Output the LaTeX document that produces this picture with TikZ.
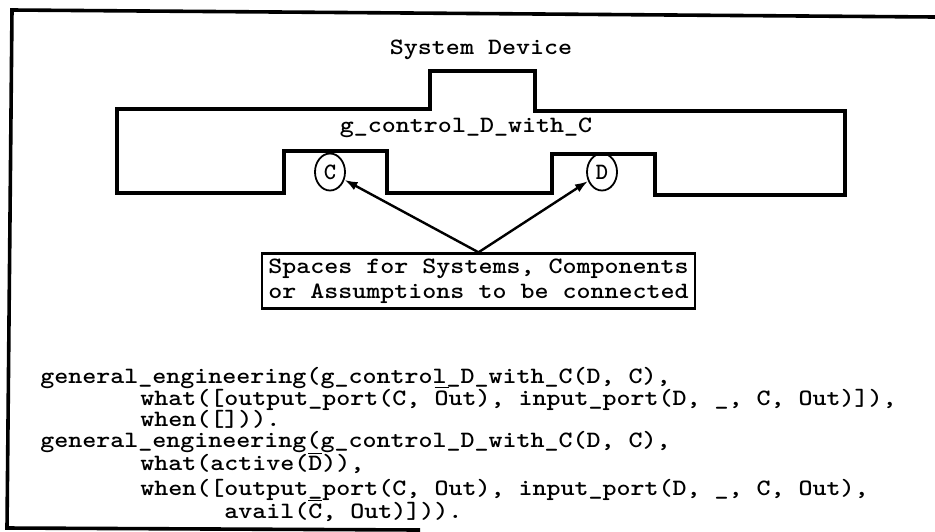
\documentclass[tikz,border=0pt]{standalone}
\usepackage{tikz}
\usetikzlibrary{arrows.meta, shapes.geometric, positioning}

\newcommand{\ovl}[1]{$\overline{\hbox{#1}}$}
\newcommand{\wide}[1]{\scalebox{1.14}[1]{#1}}

\tikzset{
  typed/.style={font=\ttfamily\bfseries\fontsize{11.7pt}{12.5pt}\selectfont, inner sep=0pt},
  codeline/.style={typed, anchor=west, text height=6pt, text depth=1pt},
  devicewall/.style={line width=2pt, line join=miter},
  slotmark/.style={typed, draw, line width=0.9pt, ellipse, minimum width=15pt, minimum height=18.5pt},
  spacebox/.style={typed, draw, line width=1.4pt, align=left, inner xsep=3.2pt, inner ysep=2.5pt},
  pointer/.style={line width=1.2pt, -{Latex[length=6.5pt, width=4.5pt]}}
}

\begin{document}
\begin{tikzpicture}[x=0.5pt, y=-0.5pt]
  \useasboundingbox (0,0) rectangle (935,531);

  % page frame
  \draw[line width=1.8pt] (935,17) -- (12,10) -- (7,528) -- (420,530);

  % device outline
  \draw[devicewall] (117,109) -- (430,109) -- (430,71) -- (535,71) -- (535,111)
    -- (845,111) -- (845,195) -- (655,195) -- (655,154) -- (552,154)
    -- (552,193) -- (387,193) -- (387,151) -- (284,151) -- (284,193)
    -- (117,193) -- cycle;

  \node[typed] (title) at (481,50) {\wide{System Device}};
  \node[typed] (devname) at (466,128) {\wide{g\_control\_D\_with\_C}};

  % connection slots
  \node[slotmark] (slotc) at (330,172) {C};
  \node[slotmark] (slotd) at (602,172) {D};

  \node[spacebox] (spaces) at (478.5,281)
    {\wide{Spaces for Systems, Components}\\\wide{or Assumptions to be connected}};

  \draw[pointer] (spaces.north) -- (slotc);
  \draw[pointer] (spaces.north) -- (slotd);

  % clauses
  \node[codeline] (ruleone)   at (40,378)  {\wide{general\_engineering(g\_control\_D\_with\_C(D, C),}};
  \node[codeline] (whatone)   at (140,400) {\wide{what([output\_port(C, \ovl{O}ut), input\_port(D, \_, C, Out)]),}};
  \node[codeline] (whenone)   at (140,421) {\wide{when([])).}};
  \node[codeline] (ruletwo)   at (40,442)  {\wide{general\_engineering(g\_control\_D\_with\_C(D, C),}};
  \node[codeline] (whattwo)   at (140,465) {\wide{what(active(\ovl{D})),}};
  \node[codeline] (whentwo)   at (140,490) {\wide{when([output\_port(C, Out), input\_port(D, \_, C, Out),}};
  \node[codeline] (availtwo)  at (224,513) {\wide{avail(\ovl{C}, Out)])).}};
\end{tikzpicture}
\end{document}
